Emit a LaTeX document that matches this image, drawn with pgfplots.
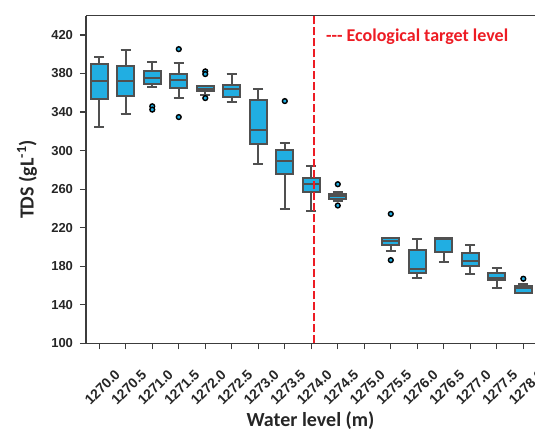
\documentclass[border=0pt]{standalone}
\usepackage{pgfplots}
\pgfplotsset{compat=1.18}
\usepgfplotslibrary{statistics}
\usepackage{fontspec}
\setmainfont{Liberation Sans}
\newfontfamily\calib{Carlito}
\definecolor{boxcyan}{RGB}{33,174,226}
\definecolor{boxgray}{RGB}{80,80,80}
\definecolor{axgray}{RGB}{60,60,60}
\definecolor{tred}{RGB}{237,28,36}
\newcommand{\tl}[1]{{\bfseries\fontsize{13}{15}\selectfont #1}}
\newcommand{\txl}[1]{{\bfseries\fontsize{14}{16}\selectfont #1}}
\pgfplotsset{
  bxstyle/.style={draw=boxgray, fill=boxcyan, line width=2pt, solid,
     mark=*, mark size=2.4pt, mark options={fill=boxcyan, draw=black, line width=1.4pt}},
}
\begin{document}
\begin{tikzpicture}
\useasboundingbox (-86pt,-86.7pt) rectangle (449pt,343.3pt);
\begin{axis}[
  at={(0pt,0pt)}, anchor=south west,
  scale only axis, width=449pt, height=327.6pt,
  xmin=-0.5, xmax=16.44, ymin=100, ymax=440,
  axis x line*=bottom, axis y line*=left,
  axis line style={draw=axgray, line width=1.3pt, -},
  tick style={draw=axgray, line width=1.2pt},
  tick align=outside, major tick length=6pt,
  xtick={0,1,2,3,4,5,6,7,8,9,10,11,12,13,14,15,16},
  xticklabels={\txl{1270.0},\txl{1270.5},\txl{1271.0},\txl{1271.5},\txl{1272.0},\txl{1272.5},\txl{1273.0},\txl{1273.5},\txl{1274.0},\txl{1274.5},\txl{1275.0},\txl{1275.5},\txl{1276.0},\txl{1276.5},\txl{1277.0},\txl{1277.5},\txl{1278.0}},
  ytick={100,140,180,220,260,300,340,380,420},
  yticklabels={\tl{100},\tl{140},\tl{180},\tl{220},\tl{260},\tl{300},\tl{340},\tl{380},\tl{420}},
  xticklabel style={font=\bfseries\fontsize{14}{16}\selectfont, text=black!85, xshift=3pt, yshift=-38pt, rotate=45, anchor=center},
  yticklabel style={text=black!85, xshift=-3.5pt},
  xlabel={Water level (m)},
  ylabel={TDS (gL\textsuperscript{-1})},
  xlabel style={font=\calib\bfseries\fontsize{20}{22}\selectfont, text=black!85, at={(axis description cs:0.5,-0.235)}, anchor=center},
  ylabel style={font=\calib\bfseries\fontsize{20}{22}\selectfont, text=black!85, at={(axis description cs:-0.1314,0.5)}, anchor=center},
  boxplot/draw direction=y,
  boxplot/box extend=0.63,
  boxplot/whisker extend=0.38,
  boxplot/every box/.style={fill=boxcyan, draw=boxgray, line width=2pt},
  boxplot/every median/.style={draw=boxgray, line width=2pt},
  boxplot/every whisker/.style={draw=boxgray, line width=2pt},
  clip=false,
]
\addplot[bxstyle, boxplot prepared={draw position=0, lower whisker=324.9, lower quartile=353.9, median=372.5, upper quartile=390.2, upper whisker=397}] coordinates {};
\addplot[bxstyle, boxplot prepared={draw position=1, lower whisker=338.3, lower quartile=356.6, median=372.5, upper quartile=388, upper whisker=404.7}] coordinates {};
\addplot[bxstyle, boxplot prepared={draw position=2, lower whisker=365.6, lower quartile=369, median=375.6, upper quartile=382.2, upper whisker=391.5}] coordinates {(2,346) (2,342.5)};
\addplot[bxstyle, boxplot prepared={draw position=3, lower whisker=354.2, lower quartile=364.9, median=372.8, upper quartile=379.8, upper whisker=391.2}] coordinates {(3,405.3) (3,334.8)};
\addplot[bxstyle, boxplot prepared={draw position=4, lower whisker=358, lower quartile=361.8, median=364.2, upper quartile=366.6, upper whisker=366.6}] coordinates {(4,382.2) (4,379.4) (4,354.5)};
\addplot[bxstyle, boxplot prepared={draw position=5, lower whisker=350, lower quartile=355.5, median=364.2, upper quartile=368, upper whisker=379.8}] coordinates {};
\addplot[bxstyle, boxplot prepared={draw position=6, lower whisker=286.1, lower quartile=307.3, median=321.8, upper quartile=352.4, upper whisker=363.8}] coordinates {};
\addplot[bxstyle, boxplot prepared={draw position=7, lower whisker=239.2, lower quartile=275.4, median=289.2, upper quartile=301, upper whisker=307.9}] coordinates {(7,351.4)};
\addplot[bxstyle, boxplot prepared={draw position=8, lower whisker=236.8, lower quartile=256.8, median=265.1, upper quartile=271.6, upper whisker=284.5}] coordinates {};
\addplot[bxstyle, boxplot prepared={draw position=9, lower whisker=247.8, lower quartile=249.9, median=253, upper quartile=255.4, upper whisker=257.5}] coordinates {(9,265.1) (9,243)};
\addplot[bxstyle, boxplot prepared={draw position=11, lower whisker=195.6, lower quartile=202.2, median=206, upper quartile=209.4, upper whisker=209.4}] coordinates {(11,234.3) (11,186.3)};
\addplot[bxstyle, boxplot prepared={draw position=12, lower whisker=167.4, lower quartile=172.8, median=176.7, upper quartile=196.4, upper whisker=208.4}] coordinates {};
\addplot[bxstyle, boxplot prepared={draw position=13, lower whisker=184.2, lower quartile=195, median=208.6, upper quartile=209.1, upper whisker=209.1}] coordinates {};
\addplot[bxstyle, boxplot prepared={draw position=14, lower whisker=171.5, lower quartile=180.4, median=185.3, upper quartile=193.3, upper whisker=201.6}] coordinates {};
\addplot[bxstyle, boxplot prepared={draw position=15, lower whisker=157.3, lower quartile=165.3, median=168, upper quartile=172.5, upper whisker=177.7}] coordinates {};
\addplot[bxstyle, boxplot prepared={draw position=16, lower whisker=152.4, lower quartile=152.4, median=157.3, upper quartile=159.4, upper whisker=161.8}] coordinates {(16,167)};
\addplot[tred, line width=2pt, dash pattern=on 8pt off 3pt] coordinates {(8.1,100) (8.1,440)};
\draw[axgray, line width=1.3pt] (rel axis cs:0,1) -- (rel axis cs:1,1);
\node[anchor=west, inner sep=0pt, text=tred, font=\calib\bfseries\fontsize{18}{20}\selectfont] at (axis cs:8.55,418) {-{}-{}- Ecological target level};
\end{axis}
\end{tikzpicture}
\end{document}
